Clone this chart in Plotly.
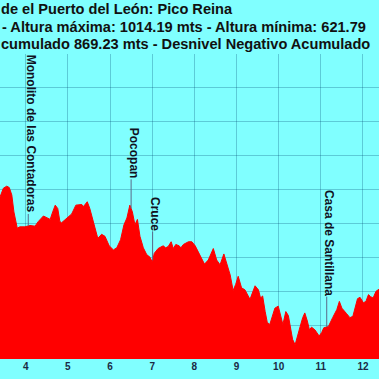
import numpy as np
import plotly.graph_objects as go

# Profile (visible section): distance in km, altitude in metres
km = [3.39, 3.47, 3.55, 3.61, 3.67, 3.72, 3.80, 3.86, 3.98, 4.10, 4.22, 4.30, 4.42, 4.50,
      4.58, 4.64, 4.70, 4.76, 4.81, 4.85, 4.97, 5.09, 5.19, 5.33, 5.37, 5.46, 5.52, 5.62,
      5.71, 5.80, 5.88, 5.98, 6.08, 6.16, 6.25, 6.33, 6.40, 6.47, 6.53, 6.59, 6.65, 6.71,
      6.79, 6.87, 6.95, 7.00, 7.05, 7.14, 7.26, 7.32, 7.38, 7.45, 7.50, 7.56, 7.64, 7.68,
      7.74, 7.86, 7.94, 8.02, 8.11, 8.24, 8.33, 8.45, 8.53, 8.61, 8.70, 8.77, 8.85, 8.92,
      8.98, 9.04, 9.12, 9.20, 9.27, 9.32, 9.44, 9.52, 9.57, 9.62, 9.68, 9.73, 9.79, 9.86,
      9.91, 9.99, 10.05, 10.10, 10.17, 10.23, 10.29, 10.33, 10.39, 10.44, 10.51, 10.57,
      10.62, 10.68, 10.73, 10.78, 10.86, 10.96, 11.02, 11.07, 11.18, 11.28, 11.38, 11.44,
      11.50, 11.61, 11.69, 11.76, 11.81, 11.87, 11.93, 12.01, 12.07, 12.13, 12.18, 12.24,
      12.31, 12.38]
altitude = [839, 852, 855, 853, 842, 817, 793, 795, 795, 797, 796, 803, 811, 808,
            806, 817, 827, 822, 803, 801, 808, 814, 827, 828, 825, 832, 822, 800,
            778, 784, 781, 767, 761, 764, 776, 798, 808, 827, 817, 798, 806, 781,
            764, 754, 750, 743, 756, 763, 767, 764, 766, 773, 763, 769, 767, 764,
            769, 773, 773, 767, 756, 740, 746, 763, 746, 739, 755, 741, 724, 701,
            710, 722, 705, 702, 695, 688, 708, 702, 690, 693, 670, 654, 651, 665,
            675, 678, 665, 651, 670, 664, 643, 629, 621, 631, 648, 661,
            668, 656, 643, 647, 643, 634, 639, 646, 648, 661, 673, 685,
            675, 667, 661, 663, 675, 689, 691, 683, 685, 695, 692, 690,
            700, 703]

# Waypoints
wp_names = ["Monolito de las Contadoras", "Pocopan", "Cruce", "Casa de Santillana"]
wp_km = [4.06, 6.50, 7.01, 11.14]
wp_label_alt = [814, 865, 788, 692]

title_lines = [
    "de el Puerto del León: Pico Reina",
    "- Altura máxima: 1014.19 mts - Altura mínima: 621.79",
    "cumulado 869.23 mts - Desnivel Negativo Acumulado",
]

x_ticks = [4, 5, 6, 7, 8, 9, 10, 11, 12]

# ---------------------------------------------------------------------------
W = H = 379
M_T, M_B = 54, 20
plot_h = H - M_T - M_B

fig = go.Figure()
fig.add_trace(go.Scatter(
    x=km, y=altitude, mode="lines", fill="tozeroy",
    line=dict(color="#ff0000", width=1), fillcolor="#ff0000",
    hoverinfo="skip", showlegend=False,
))

label_font = dict(family="Liberation Sans, Arial, sans-serif", size=12,
                  color="#111122", weight="bold")
for name, k, la in zip(wp_names, wp_km, wp_label_alt):
    prof = float(np.interp(k, km, altitude))
    fig.add_shape(type="line", xref="x", yref="y", x0=k, x1=k, y0=prof, y1=la,
                  line=dict(color="#5a6a8a", width=1), layer="above")
    fig.add_annotation(x=k, y=la, xref="x", yref="y", text=name, showarrow=False,
                       textangle=90, xanchor="center", yanchor="bottom",
                       xshift=3, borderpad=0, font=label_font)

title_font = dict(family="Liberation Sans, Arial, sans-serif", size=14.6,
                  color="#111111", weight="bold")
title_px = [(0, 8.5), (0.7, 26.5), (0, 44.5)]
for txt, (px, py) in zip(title_lines, title_px):
    fig.add_annotation(x=px / W, y=(H - M_B - py) / plot_h, xref="paper", yref="paper",
                       text=txt, showarrow=False, xanchor="left", yanchor="middle",
                       font=title_font, borderpad=0)

grid_col = "rgba(0,70,110,0.28)"
fig.update_layout(
    width=W, height=H,
    margin=dict(l=0, r=0, t=M_T, b=M_B, pad=0),
    paper_bgcolor="#80ffff", plot_bgcolor="#80ffff",
    xaxis=dict(range=[3.39, 12.38], tickvals=x_ticks, ticktext=[str(t) for t in x_ticks],
               showgrid=True, gridcolor=grid_col, gridwidth=1, zeroline=False,
               showline=False, ticks="", layer="above traces",
               tickfont=dict(family="Liberation Sans, Arial, sans-serif", size=10,
                             color="#1a2a44", weight="bold")),
    yaxis=dict(range=[600, 1050], dtick=50, showgrid=True, gridcolor=grid_col,
               gridwidth=1, zeroline=False, showline=False, showticklabels=False,
               ticks="", layer="above traces"),
    showlegend=False,
)

fig.write_html(
    "out.html",
    config={"displayModeBar": False},
    post_script="document.body.style.margin='0';document.body.style.padding='0';"
                "document.body.style.overflow='hidden';"
                "document.body.style.background='#80ffff';",
)
